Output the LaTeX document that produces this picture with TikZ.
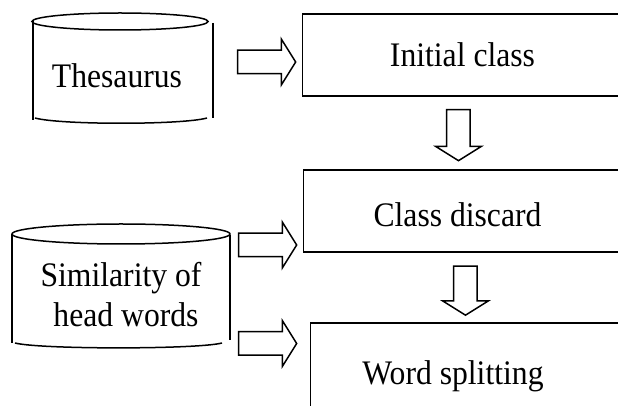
\documentclass[tikz,border=0pt]{standalone}
\usepackage{fontspec}
\setmainfont{Liberation Serif}
\usetikzlibrary{calc,shapes.arrows}
\newcommand{\estrecho}[1]{\scalebox{0.92}[1]{#1}}

\begin{document}
\begin{tikzpicture}[x=0.5pt,y=-0.5pt,line width=0.75pt,black]
			\tikzset{caja/.style={draw=black, rectangle, anchor=west, inner sep=0pt, minimum width=220pt, minimum height=41pt},
			texto/.style={font=\fontsize{17.2pt}{20pt}\selectfont, inner sep=0pt, anchor=base},
			flecha/.style={draw=black, single arrow, inner sep=5.5pt, minimum height=29pt, single arrow head extend=5.5pt, single arrow tip angle=116}}
			\useasboundingbox (0,0) rectangle (618,406);
			\clip (0,0) rectangle (618,406);
			% cylinders
			\draw (120,21.5) ellipse [x radius=44pt, y radius=4.25pt];
			\draw (33,21.5) -- (33,120) (213,23) -- (213,118);
			\draw (35,118) .. controls (60,125) and (182,125) .. (207,118);
			\node[texto] (TH) at (117,88) {\estrecho{Thesaurus}};
			\draw (121,234) ellipse [x radius=54.5pt, y radius=5pt];
			\draw (12,234) -- (12,343) (230,235) -- (230,340);
			\draw (15,343) .. controls (40,349.5) and (197,349.5) .. (222,343);
			\node[texto] (SH1) at (121,287) {\estrecho{Similarity of}};
			\node[texto] (SH2) at (126,327) {\estrecho{head words}};
			% blocks
			\node[caja] at (302,55) (IC){};
			\node[caja] at (303,211) (CD){};
			\node[caja, minimum height=80pt] at (310,403) (WS){};
			\node[texto] at ($(IC.west)+(160.5,12)$) (ICt){\estrecho{Initial class}};
			\node[texto] at ($(CD.west)+(154.5,16)$) (CDt){\estrecho{Class discard}};
			\node[texto] at ($(WS.west)+(143,-18)$) (WSt){\estrecho{Word splitting}};
			% arrows
			\node[flecha] at (263,62) (A1){};
			\node[flecha] at (264,245) (A2){};
			\node[flecha] at (264,343.5) (A3){};
			\node[flecha, minimum height=25.5pt, shape border rotate=270] at (458.5,131.5) (D1){};
			\node[flecha, minimum height=24.5pt, shape border rotate=270] at (465.5,287) (D2){};
	\end{tikzpicture}
\end{document}
